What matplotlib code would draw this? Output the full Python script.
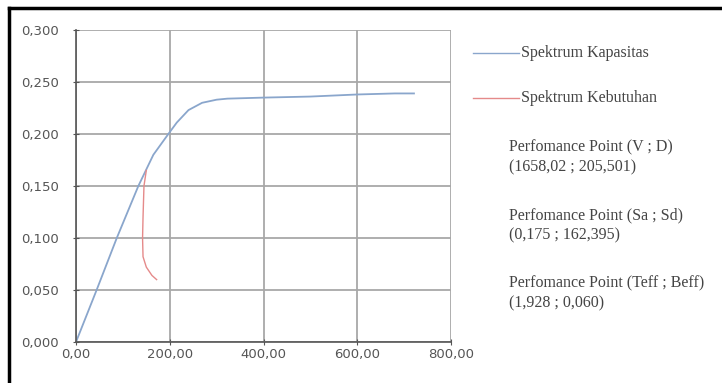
import matplotlib.pyplot as plt
from matplotlib.lines import Line2D

# kurva kapasitas (Sd, Sa)
sd_kapasitas = [0, 44, 87, 133, 165, 197, 215, 240, 269, 300, 323, 400, 500, 600, 680, 721]
sa_kapasitas = [0.000, 0.050, 0.100, 0.150, 0.180, 0.200, 0.211, 0.223, 0.230, 0.233, 0.234, 0.235, 0.236, 0.238, 0.239, 0.239]

# kurva kebutuhan
sd_kebutuhan = [150, 145, 143, 142, 143, 150, 162, 172]
sa_kebutuhan = [0.165, 0.150, 0.120, 0.100, 0.082, 0.072, 0.064, 0.060]

x_ticks = [0, 200, 400, 600, 800]
y_ticks = [0.0, 0.05, 0.1, 0.15, 0.2, 0.25, 0.3]

label_kapasitas = 'Spektrum Kapasitas'
label_kebutuhan = 'Spektrum Kebutuhan'
info_lines = [
    ('Perfomance Point (V ; D)', '(1658,02 ; 205,501)'),
    ('Perfomance Point (Sa ; Sd)', '(0,175 ; 162,395)'),
    ('Perfomance Point (Teff ; Beff)', '(1,928 ; 0,060)'),
]

W, H = 722, 383
fig = plt.figure(figsize=(W / 100, H / 100), dpi=100)
ax = fig.add_axes([76 / W, 1 - 342 / H, (451 - 76) / W, (342 - 30) / H])

blue = '#8aa6cc'
red = '#e58a8a'
ax.plot(sd_kapasitas, sa_kapasitas, color=blue, lw=1.3)
ax.plot(sd_kebutuhan, sa_kebutuhan, color=red, lw=1.0)

ax.set_xlim(0, 800)
ax.set_ylim(0, 0.3)
ax.set_xticks(x_ticks)
ax.set_yticks(y_ticks)
ax.set_xticklabels([f'{v:.2f}'.replace('.', ',') for v in x_ticks])
ax.set_yticklabels([f'{v:.3f}'.replace('.', ',') for v in y_ticks])
ax.tick_params(labelsize=9.5, colors='#555555', length=5, direction='inout')
ax.tick_params(axis='y', pad=10)
ax.tick_params(axis='x', pad=2)
ax.grid(True, color='#a8a8a8', lw=1.3)
ax.set_axisbelow(True)
for s in ['top', 'right']:
    ax.spines[s].set_visible(False)
for s in ['left', 'bottom']:
    ax.spines[s].set_color('#555555')
    ax.spines[s].set_linewidth(1.2)

# legenda manual
serif = 'Liberation Serif'
fs = 11.5
for y, c, lab in [(53, blue, label_kapasitas), (98, red, label_kebutuhan)]:
    fig.add_artist(Line2D([473 / W, 519 / W], [1 - y / H, 1 - y / H], color=c, lw=1.0))
    fig.text(521 / W, 1 - y / H, lab, fontsize=fs, family=serif, va='center', color='#444444')

for i, (a, b) in enumerate(info_lines):
    y0 = 147 + i * 68
    fig.text(509 / W, 1 - y0 / H, a, fontsize=fs, family=serif, va='center', color='#444444')
    fig.text(509 / W, 1 - (y0 + 20) / H, b, fontsize=fs, family=serif, va='center', color='#444444')

# bingkai luar
fig.add_artist(Line2D([9 / W, 9 / W], [0, 1 - 8 / H], color='black', lw=2.5))
fig.add_artist(Line2D([9 / W, 1], [1 - 8 / H, 1 - 8 / H], color='black', lw=2.5))

fig.savefig('out.png', dpi=100)
